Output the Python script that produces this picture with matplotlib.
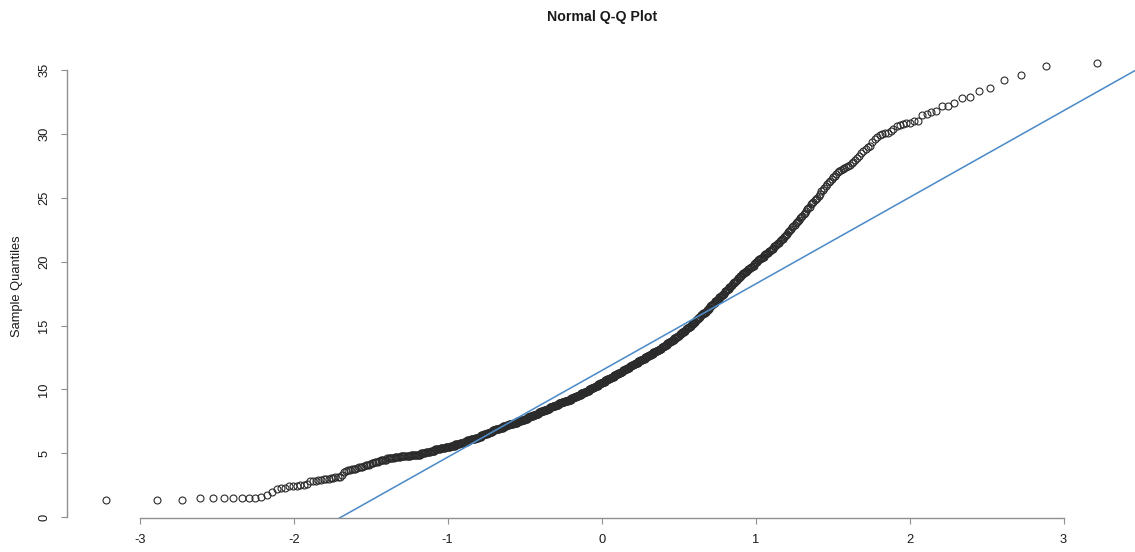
import numpy as np
import matplotlib
matplotlib.use("Agg")
import matplotlib.pyplot as plt
from statistics import NormalDist

# ---------------- data ----------------
title = "Normal Q-Q Plot"
y_label = "Sample Quantiles"
x_ticks = [-3, -2, -1, 0, 1, 2, 3]
y_ticks = [0, 5, 10, 15, 20, 25, 30, 35]

# lowest 60 sorted sample values (one per point)
lower_tail = [1.3, 1.3, 1.3, 1.5, 1.5, 1.5, 1.5, 1.5, 1.5, 1.5, 1.6, 1.7, 2.0, 2.2,
              2.3, 2.3, 2.4, 2.4, 2.45, 2.5, 2.5, 2.6, 2.8, 2.85, 2.85, 2.9, 2.9,
              2.95, 2.95, 3.0, 3.05, 3.05, 3.1, 3.1, 3.15, 3.3, 3.55, 3.6, 3.65,
              3.7, 3.75, 3.75, 3.8, 3.85, 3.9, 3.95, 3.95, 4.0, 4.05, 4.1, 4.1,
              4.15, 4.2, 4.25, 4.3, 4.3, 4.35, 4.4, 4.45, 4.45]

# dense middle of the sorted sample: value levels and how many points sit at each
mid_levels = [4.5, 4.6, 4.7, 4.8, 4.9, 5.0, 5.1, 5.2, 5.3, 5.4, 5.5, 5.6, 5.7, 5.8,
              5.9, 6.0, 6.1, 6.2, 6.3, 6.4, 6.5, 6.6, 6.7, 6.8, 6.9, 7.0, 7.1, 7.2,
              7.3, 7.4, 7.5, 7.6, 7.7, 7.8, 7.9, 8.0, 8.1, 8.2, 8.3, 8.4, 8.5, 8.6,
              8.7, 8.8, 8.9, 9.0, 9.1, 9.2, 9.3, 9.4, 9.5, 9.6, 9.7, 9.8, 9.9, 10.0,
              10.1, 10.2, 10.3, 10.4, 10.5, 10.6, 10.7, 10.8, 10.9, 11.0, 11.1, 11.2,
              11.3, 11.4, 11.5, 11.6, 11.7, 11.8, 11.9, 12.0, 12.1, 12.2, 12.3, 12.4,
              12.5, 12.6, 12.7, 12.8, 12.9, 13.0, 13.1, 13.2, 13.3, 13.4, 13.5, 13.6,
              13.7, 13.8, 13.9, 14.0, 14.1, 14.2, 14.3, 14.4, 14.5, 14.6, 14.7, 14.8,
              14.9, 15.0, 15.1, 15.2, 15.3, 15.4, 15.5, 15.6, 15.7, 15.8, 15.9, 16.0,
              16.1, 16.2, 16.3, 16.4, 16.5, 16.6, 16.7, 16.8, 16.9, 17.0, 17.1, 17.2,
              17.3, 17.4, 17.5, 17.6, 17.7, 17.8, 17.9, 18.0, 18.1, 18.2, 18.3, 18.4,
              18.5, 18.6, 18.7, 18.8, 18.9, 19.0, 19.1, 19.2, 19.3, 19.4, 19.5, 19.6,
              19.7, 19.8, 19.9, 20.0, 20.1, 20.2, 20.3, 20.4, 20.5, 20.6, 20.7, 20.8,
              20.9, 21.0, 21.1, 21.2, 21.3, 21.4, 21.5, 21.6, 21.7, 21.8, 21.9, 22.0,
              22.1, 22.2, 22.3, 22.4, 22.5, 22.6, 22.7, 22.8, 22.9, 23.0, 23.1, 23.2,
              23.3, 23.4, 23.5, 23.6, 23.7, 23.8, 24.0, 24.1, 24.2, 24.3, 24.5, 24.6,
              24.7, 24.8, 24.9, 25.0, 25.15, 25.3]
mid_counts = [3, 6, 5, 9, 10, 5, 5, 5, 6, 6, 6, 6, 6, 5,
              5, 5, 6, 5, 4, 4, 5, 4, 4, 5, 6, 6, 6, 4,
              7, 7, 7, 6, 5, 5, 5, 5, 5, 5, 5, 6, 5, 5,
              6, 6, 6, 6, 6, 6, 5, 5, 5, 5, 6, 5, 5, 4,
              5, 4, 5, 4, 5, 5, 4, 5, 4, 5, 4, 4,
              5, 4, 5, 4, 5, 4, 4, 4, 5, 4, 5, 4,
              4, 4, 4, 4, 4, 4, 4, 4, 3, 4, 3, 3,
              3, 4, 3, 3, 3, 3, 3, 2, 3, 3, 2, 3,
              3, 2, 3, 2, 2, 2, 2, 2, 2, 2, 2, 4,
              2, 2, 2, 1, 2, 2, 2, 2, 2, 2, 2, 2,
              2, 2, 2, 1, 2, 2, 2, 2, 1, 2, 2, 2,
              1, 2, 2, 1, 2, 2, 2, 2, 2, 2, 2, 2,
              2, 1, 1, 2, 2, 2, 2, 2, 1, 2, 2, 2,
              1, 2, 1, 2, 1, 1, 2, 1, 1, 2, 1, 1,
              1, 1, 1, 1, 1, 1, 1, 1, 1, 1, 1, 1,
              1, 1, 1, 1, 1, 1, 1, 1, 1, 1, 1, 1,
              1, 1, 1, 1, 1, 1]

# highest 60 sorted sample values (one per point, ascending)
upper_tail = [25.5, 25.65, 25.8, 25.95, 26.1, 26.25, 26.35, 26.5, 26.6, 26.75,
              26.85, 27.0, 27.1, 27.2, 27.25, 27.35, 27.4, 27.5, 27.6, 27.7,
              27.8, 28.0, 28.1, 28.3, 28.5, 28.7, 28.8, 29.0, 29.1, 29.4,
              29.6, 29.8, 29.9, 30.0, 30.1, 30.1, 30.2, 30.4, 30.6, 30.7,
              30.8, 30.9, 30.9, 31.0, 31.0, 31.5, 31.6, 31.7, 31.8, 32.2,
              32.2, 32.4, 32.8, 32.9, 33.4, 33.6, 34.2, 34.6, 35.3, 35.6]

# ---------------- Q-Q computation (as qqnorm / qqline) ----------------
sample = np.sort(np.concatenate([lower_tail,
                                 np.repeat(mid_levels, mid_counts),
                                 upper_tail]))
n = len(sample)
nd = NormalDist()
probs = (np.arange(1, n + 1) - 0.5) / n
theo = np.array([nd.inv_cdf(p) for p in probs])

q1, q3 = np.percentile(sample, [25, 75])
x1, x3 = nd.inv_cdf(0.25), nd.inv_cdf(0.75)
slope = (q3 - q1) / (x3 - x1)
intercept = q1 - slope * x1

# ---------------- figure ----------------
plt.rcParams["font.family"] = ["Liberation Sans", "DejaVu Sans"]
plt.rcParams["axes.unicode_minus"] = False

W, H = 1135, 552
fig = plt.figure(figsize=(W / 100, H / 100), dpi=100)
left_px, right_px, top_px, bottom_px = 66.5, 1136.8, 45.0, 518.0
ax = fig.add_axes([left_px / W, 1 - bottom_px / H,
                   (right_px - left_px) / W, (bottom_px - top_px) / H])

ax.plot(theo, sample, linestyle="none", marker="o", markersize=5.0,
        markerfacecolor="none", markeredgecolor="#2b2b2b", markeredgewidth=0.8)
ax.axline((0, intercept), slope=slope, color="#4f8cc9", linewidth=1.15)

xr = theo.max() - theo.min()
yr = sample.max() - sample.min()
ax.set_xlim(theo.min() - 0.04 * xr, theo.max() + 0.04 * xr)
ax.set_ylim(sample.min() - 0.04 * yr, sample.max() + 0.04 * yr)

for s in ["top", "right"]:
    ax.spines[s].set_visible(False)
axis_col = "#8f8f8f"
ax.spines["left"].set_bounds(y_ticks[0], y_ticks[-1])
ax.spines["bottom"].set_bounds(x_ticks[0], x_ticks[-1])
for s in ["left", "bottom"]:
    ax.spines[s].set_color(axis_col)
    ax.spines[s].set_linewidth(1.0)

ax.set_xticks(x_ticks)
ax.set_xticklabels([str(t) for t in x_ticks])
ax.set_yticks(y_ticks)
ax.set_yticklabels([str(t) for t in y_ticks])
ax.tick_params(axis="both", direction="out", length=4.3, width=0.8,
               color=axis_col, labelsize=9.3, labelcolor="#1a1a1a", pad=7.5)
for lbl in ax.get_yticklabels():
    lbl.set_rotation(90)
    lbl.set_va("center")

fig.text(601.6 / W, 1 - 17 / H, title, ha="center", va="center",
         fontsize=10.2, fontweight="bold", color="#1a1a1a")
fig.text(17 / W, 1 - 286 / H, y_label, ha="center", va="center",
         rotation=90, fontsize=9.3, color="#1a1a1a")

fig.savefig("out.png", dpi=100)
